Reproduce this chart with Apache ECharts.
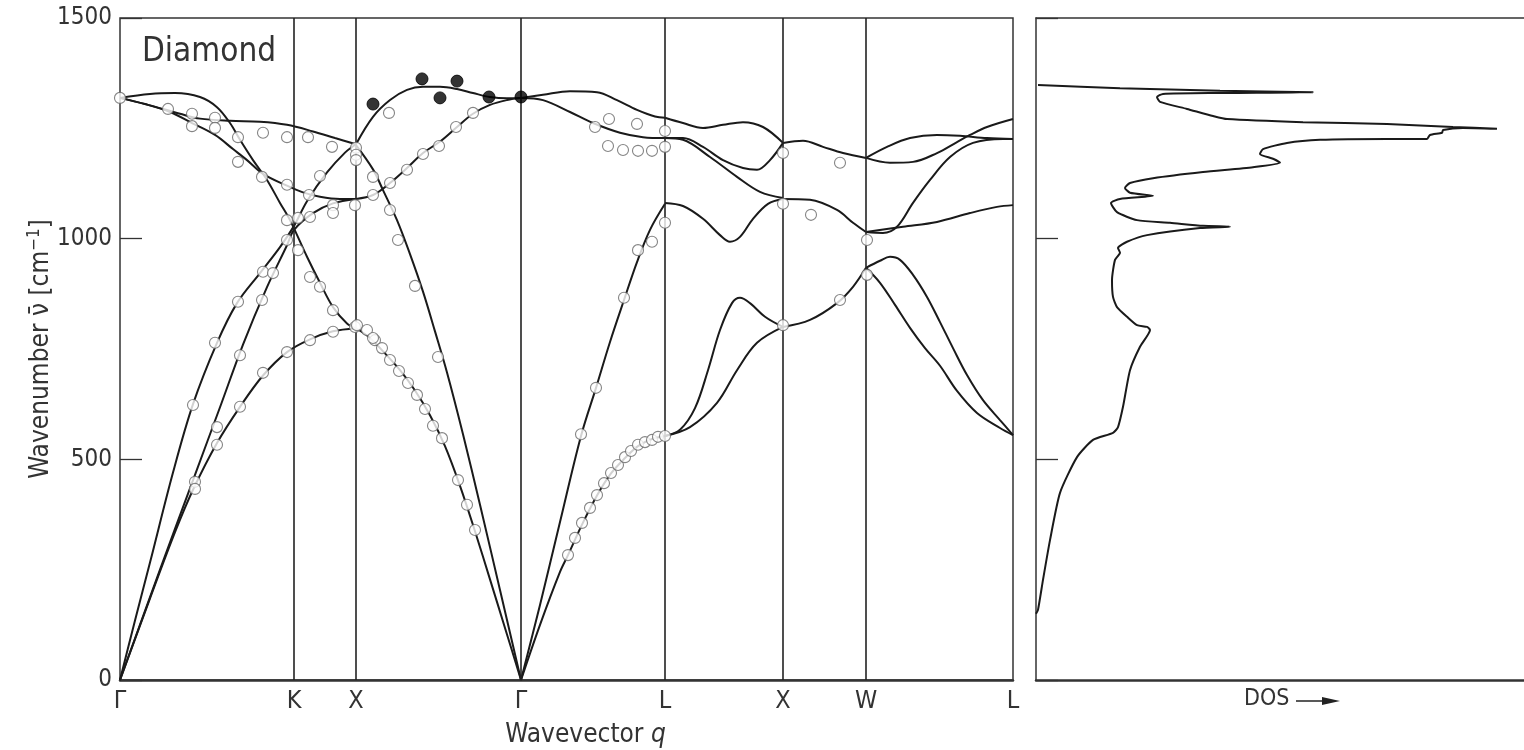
<!DOCTYPE html>
<html><head><meta charset="utf-8">
<script src="https://cdn.jsdelivr.net/npm/echarts@6/dist/echarts.min.js"></script>
<style>html,body{margin:0;padding:0;background:#fff}#c{width:1524px;height:750px}</style>
</head><body><div id="c"></div>
<script>
const FONT = "'Liberation Sans Narrow','DejaVu Sans Condensed','Arial Narrow',sans-serif";
// high-symmetry points along the path (wavevector axis units)
const qTicks = [0, 174, 236, 401, 545, 663, 746, 893];
const qLabels = ['Γ', 'K', 'X', 'Γ', 'L', 'X', 'W', 'L'];
const yTicks = [0, 500, 1000, 1500];

// ---- calculated dispersion branches [q, wavenumber cm^-1] ----
// Γ – K – X
const gkx_A   = [[0,1319],[30,1328],[55,1330],[80,1321],[97,1298],[110,1262],[120,1224],[133,1178],[147,1133],[160,1081],[170,1042],[187,959],[200,900],[213,845],[227,808],[236,797]];
const gkx_C   = [[0,1319],[25,1305],[50,1287],[72,1262],[95,1235],[113,1203],[127,1178],[143,1147],[167,1120],[183,1105],[200,1095],[220,1090],[236,1090]];
const gkx_D   = [[0,1319],[30,1302],[60,1283],[80,1272],[110,1267],[140,1265],[167,1258],[193,1243],[215,1228],[236,1214]];
const gkx_LA  = [[0,0],[15,135],[30,266],[53,470],[73,625],[97,764],[117,854],[140,922],[160,981],[174,1029],[187,1085],[207,1150],[225,1195],[236,1214]];
const gkx_TA2 = [[0,0],[40,250],[75,465],[100,618],[123,760],[147,890],[167,985],[174,1020],[193,1058],[213,1080],[236,1090]];
const gkx_TA1 = [[0,0],[30,185],[55,335],[73,431],[97,537],[120,619],[143,690],[167,743],[190,772],[213,790],[236,797]];
// X – Γ
const xg_LO = [[236,1214],[253,1276],[270,1314],[287,1337],[303,1344],[320,1344],[337,1339],[353,1330],[370,1321],[387,1318],[401,1319]];
const xg_TO = [[236,1090],[253,1099],[270,1126],[287,1160],[303,1194],[320,1220],[337,1253],[353,1283],[370,1303],[387,1314],[401,1319]];
const xg_LA = [[236,1212],[253,1157],[263,1110],[277,1042],[290,965],[303,880],[315,790],[327,697],[343,557],[360,397],[380,204],[401,0]];
const xg_TA = [[236,797],[250,775],[265,740],[280,702],[295,656],[310,600],[325,530],[340,440],[355,337],[370,228],[385,118],[401,0]];
// Γ – L
const gl_LO = [[401,1319],[423,1326],[450,1334],[477,1332],[497,1314],[517,1292],[535,1277],[545,1274]];
const gl_TO = [[401,1319],[423,1314],[450,1287],[473,1262],[500,1240],[523,1230],[545,1228]];
const gl_LA = [[401,0],[420,170],[440,358],[461,553],[476,662],[490,766],[504,861],[517,947],[530,1020],[545,1079]];
const gl_TA = [[401,0],[420,125],[440,245],[448,283],[462,352],[477,418],[491,468],[505,503],[518,530],[532,546],[545,553]];
// L – X
const lx_LO  = [[545,1274],[563,1262],[583,1251],[603,1258],[623,1264],[643,1253],[663,1217]];
const lx_TO1 = [[545,1228],[563,1228],[583,1208],[603,1178],[623,1160],[637,1156],[650,1178],[663,1217]];
const lx_TO2 = [[545,1228],[563,1224],[590,1185],[617,1140],[640,1106],[663,1092]];
const lx_LA  = [[545,1081],[563,1074],[583,1045],[600,1008],[610,993],[620,1004],[633,1045],[648,1079],[663,1090]];
const lx_TAa = [[545,553],[560,567],[575,616],[588,702],[600,793],[612,854],[620,866],[630,854],[645,823],[663,800]];
const lx_TAb = [[545,553],[570,573],[597,628],[617,702],[637,764],[663,800]];
// X – W
const xw_top = [[663,1217],[683,1222],[703,1208],[723,1194],[746,1183]];
const xw_mid = [[663,1090],[690,1088],[717,1065],[733,1036],[746,1015]];
const xw_low = [[663,800],[690,816],[717,854],[733,891],[746,934]];
// W – L
const wl_topA = [[746,1183],[767,1208],[790,1228],[817,1235],[840,1233],[867,1228],[893,1226]];
const wl_topB = [[746,1183],[770,1172],[793,1174],[817,1194],[837,1219],[850,1235],[867,1253],[893,1271]];
const wl_midA = [[746,1015],[763,1013],[777,1027],[793,1081],[810,1133],[830,1185],[853,1217],[883,1226],[893,1226]];
const wl_midB = [[746,1015],[783,1027],[817,1038],[850,1058],[877,1072],[893,1076]];
const wl_lowA = [[746,934],[760,950],[770,959],[780,952],[793,918],[807,868],[820,811],[833,752],[847,691],[863,634],[880,589],[893,555]];
const wl_lowB = [[746,934],[760,900],[775,850],[790,798],[805,752],[820,712],[837,655],[857,605],[880,571],[893,555]];

const branches = [gkx_A, gkx_C, gkx_D, gkx_LA, gkx_TA2, gkx_TA1,
  xg_LO, xg_TO, xg_LA, xg_TA, gl_LO, gl_TO, gl_LA, gl_TA,
  lx_LO, lx_TO1, lx_TO2, lx_LA, lx_TAa, lx_TAb, xw_top, xw_mid, xw_low,
  wl_topA, wl_topB, wl_midA, wl_midB, wl_lowA, wl_lowB];

// ---- measured points ----
const openPoints = [
  [0,1319],[48,1294],[72,1283],[72,1255],[95,1274],[95,1251],[118,1230],[118,1174],[143,1240],[142,1140],
  [167,1230],[167,1122],[188,1230],[189,1099],[212,1208],[200,1142],[213,1076],[213,1058],[235,1076],
  [167,1042],[178,1047],[190,1049],[167,997],[178,974],[190,913],[200,891],[213,838],[143,925],[153,922],
  [118,857],[142,861],[95,764],[235,800],[120,736],[73,623],[143,696],[120,619],[97,573],[97,533],
  [75,449],[75,433],[167,743],[190,770],[213,789],
  [236,1206],[236,1190],[236,1178],[269,1285],[253,1140],[270,1126],[253,1099],[287,1156],[303,1192],
  [319,1210],[336,1253],[353,1285],[270,1065],[278,997],[295,893],[318,732],[237,804],[247,793],[255,770],
  [253,775],[262,752],[270,725],[279,700],[288,673],[297,646],[305,614],[313,576],[322,548],[338,453],
  [347,397],[355,340],
  [475,1253],[489,1271],[517,1260],[545,1244],[488,1210],[503,1201],[518,1199],[532,1199],[545,1208],
  [461,557],[476,662],[504,866],[518,974],[532,993],[545,1036],
  [448,283],[455,322],[462,356],[470,390],[477,419],[484,446],[491,469],[498,487],[505,505],[511,519],
  [518,533],[525,539],[532,544],[538,551],[545,553],
  [663,1194],[720,1172],[663,1079],[691,1054],[747,997],[720,861],[747,918],[663,804]
];
const filledPoints = [[253,1305],[302,1362],[320,1319],[337,1357],[369,1321],[401,1321]];

// ---- density of states [DOS (arb.), wavenumber] ----
const dosCurve = [[0,150],[2,159],[7,227],[14,317],[24,424],[41,505],[57,544],[77,560],[82,573],[87,619],
  [94,702],[104,755],[114,793],[111,800],[101,804],[91,823],[81,845],[77,868],[76,906],[79,952],[84,968],
  [82,979],[91,993],[111,1008],[164,1024],[194,1027],[167,1029],[134,1036],[101,1042],[81,1060],[75,1081],
  [84,1090],[117,1097],[94,1104],[89,1115],[94,1126],[117,1137],[167,1151],[217,1162],[244,1172],[237,1181],
  [224,1192],[227,1203],[251,1217],[284,1224],[351,1226],[391,1226],[394,1235],[406,1240],[407,1246],
  [427,1251],[461,1249],[417,1253],[351,1260],[267,1264],[191,1271],[177,1278],[151,1294],[124,1310],
  [121,1321],[127,1328],[184,1330],[277,1332],[184,1335],[84,1341],[2,1348]];
const dosMax = 520;

const lineColor = '#1a1a1a';
const textColor = '#333';
const frame = {color: '#333', width: 1.5};
const series = branches.map(b => ({
  type: 'line', xAxisIndex: 0, yAxisIndex: 0, data: b, smooth: 0.35,
  showSymbol: false, silent: true, z: 3,
  lineStyle: {color: lineColor, width: 2}
}));
series.push({
  type: 'line', xAxisIndex: 0, yAxisIndex: 0, data: [], silent: true, z: 2,
  markLine: {
    silent: true, symbol: ['none', 'none'], label: {show: false},
    lineStyle: {color: '#222', width: 1.6, type: 'solid'},
    data: qTicks.slice(1, -1).map(v => ({xAxis: v}))
  }
});
series.push({
  type: 'scatter', xAxisIndex: 0, yAxisIndex: 0, data: openPoints, symbol: 'circle', symbolSize: 11,
  silent: true, z: 5, itemStyle: {color: '#fff', borderColor: '#666', borderWidth: 1.1}
});
series.push({
  type: 'scatter', xAxisIndex: 0, yAxisIndex: 0, data: filledPoints, symbol: 'circle', symbolSize: 12,
  silent: true, z: 6, itemStyle: {color: '#000', borderColor: '#000', borderWidth: 1}
});
series.push({
  type: 'line', xAxisIndex: 1, yAxisIndex: 1, data: dosCurve, smooth: 0.2, showSymbol: false,
  silent: true, z: 3, lineStyle: {color: lineColor, width: 2}
});

const option = {
  animation: false,
  backgroundColor: '#fff',
  grid: [
    {left: 120, top: 18, width: 893, height: 662, show: true, borderColor: '#333', borderWidth: 1.5,
     backgroundColor: 'transparent', outerBoundsMode: 'none'},
    {left: 1036, top: 18, width: dosMax, height: 662, show: false, outerBoundsMode: 'none'}
  ],
  xAxis: [
    {type: 'value', gridIndex: 0, min: 0, max: 893,
     axisLine: {show: true, lineStyle: {color: '#333', width: 2.5}}, axisTick: {show: false}, splitLine: {show: false},
     axisLabel: {customValues: qTicks, formatter: v => qLabels[qTicks.indexOf(v)],
       fontSize: 25, color: textColor, fontFamily: FONT, margin: 9, showMinLabel: true, showMaxLabel: true},
     name: 'Wavevector {i|q}', nameLocation: 'middle', nameGap: 42,
     nameTextStyle: {fontSize: 26, color: textColor, fontFamily: FONT, padding: [0, 0, 0, 38],
       rich: {i: {fontSize: 26, fontStyle: 'italic', color: textColor, fontFamily: FONT}}}},
    {type: 'value', gridIndex: 1, min: 0, max: dosMax, position: 'bottom',
     axisLine: {show: true, lineStyle: {color: '#333', width: 2.5}}, axisTick: {show: false},
     splitLine: {show: false}, axisLabel: {show: false}},
    {type: 'value', gridIndex: 1, min: 0, max: dosMax, position: 'top',
     axisLine: {show: true, lineStyle: frame}, axisTick: {show: false},
     splitLine: {show: false}, axisLabel: {show: false}}
  ],
  yAxis: [
    {type: 'value', gridIndex: 0, min: 0, max: 1500, interval: 500,
     axisLine: {show: false}, splitLine: {show: false},
     axisTick: {show: true, inside: true, length: 22, lineStyle: {color: '#333', width: 1.3}},
     axisLabel: {fontSize: 24, color: textColor, fontFamily: FONT, margin: 8, formatter: v => String(v)},
     name: 'Wavenumber ν̄ [cm{sup|−1}]', nameLocation: 'middle', nameGap: 64, nameRotate: 90,
     nameMoveOverlap: false,
     nameTextStyle: {fontSize: 26, color: textColor, fontFamily: FONT, lineHeight: 30,
       rich: {sup: {fontSize: 17, color: textColor, fontFamily: FONT, verticalAlign: 'top', lineHeight: 18}}}},
    {type: 'value', gridIndex: 1, min: 0, max: 1500, interval: 500,
     axisLine: {show: true, lineStyle: frame}, splitLine: {show: false}, axisLabel: {show: false},
     axisTick: {show: true, inside: true, length: 22, lineStyle: {color: '#333', width: 1.3}}}
  ],
  graphic: [
    {type: 'text', left: 142, top: 36, silent: true,
     style: {text: 'Diamond', fontSize: 33, fill: textColor, fontFamily: FONT}},
    {type: 'text', left: 1244, top: 688, silent: true,
     style: {text: 'DOS', fontSize: 23, fill: textColor, fontFamily: FONT}},
    {type: 'line', silent: true, shape: {x1: 1296, y1: 701, x2: 1328, y2: 701},
     style: {stroke: '#222', lineWidth: 1.5}},
    {type: 'polygon', silent: true, shape: {points: [[1322, 697], [1340, 701], [1322, 705]]},
     style: {fill: '#222'}}
  ],
  series: series
};
const chart = echarts.init(document.getElementById('c'), null, {renderer: 'canvas'});
chart.setOption(option);
</script></body></html>
